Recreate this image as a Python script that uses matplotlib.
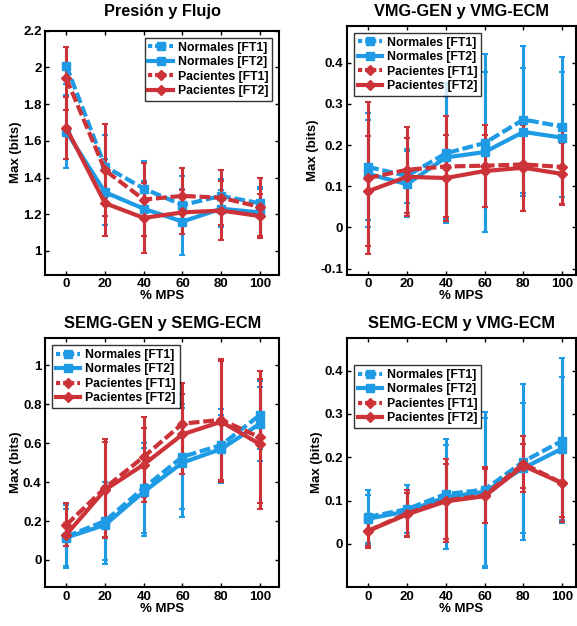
import matplotlib
matplotlib.use('Agg')
import matplotlib.pyplot as plt
from matplotlib.lines import Line2D

plt.rcParams['font.family'] = ['Liberation Sans', 'DejaVu Sans']
plt.rcParams['font.weight'] = 'bold'

x = [0, 20, 40, 60, 80, 100]
labels = ['Normales [FT1]', 'Normales [FT2]', 'Pacientes [FT1]', 'Pacientes [FT2]']
titles = ['Presión y Flujo', 'VMG-GEN y VMG-ECM', 'SEMG-GEN y SEMG-ECM', 'SEMG-ECM y VMG-ECM']

# Presión y Flujo
pf_mean = [
    [2.01, 1.46, 1.34, 1.25, 1.30, 1.26],
    [1.65, 1.32, 1.23, 1.16, 1.23, 1.21],
    [1.94, 1.44, 1.28, 1.30, 1.29, 1.24],
    [1.67, 1.26, 1.18, 1.21, 1.22, 1.19],
]
pf_err = [
    [0.10, 0.17, 0.15, 0.16, 0.09, 0.08],
    [0.20, 0.18, 0.15, 0.18, 0.10, 0.14],
    [0.17, 0.25, 0.20, 0.15, 0.15, 0.16],
    [0.17, 0.18, 0.19, 0.12, 0.16, 0.12],
]

# VMG-GEN y VMG-ECM
vmg_mean = [
    [0.147, 0.125, 0.180, 0.205, 0.262, 0.245],
    [0.130, 0.105, 0.170, 0.183, 0.232, 0.218],
    [0.120, 0.140, 0.148, 0.150, 0.153, 0.147],
    [0.088, 0.123, 0.120, 0.137, 0.145, 0.130],
]
vmg_err = [
    [0.130, 0.065, 0.170, 0.215, 0.178, 0.170],
    [0.130, 0.080, 0.150, 0.195, 0.155, 0.160],
    [0.185, 0.105, 0.122, 0.100, 0.112, 0.090],
    [0.133, 0.095, 0.105, 0.087, 0.105, 0.075],
]

# SEMG-GEN y SEMG-ECM
semg_mean = [
    [0.120, 0.200, 0.370, 0.530, 0.590, 0.745],
    [0.115, 0.180, 0.350, 0.500, 0.570, 0.700],
    [0.180, 0.370, 0.530, 0.700, 0.720, 0.630],
    [0.130, 0.360, 0.490, 0.645, 0.710, 0.595],
]
semg_err = [
    [0.160, 0.200, 0.230, 0.270, 0.185, 0.175],
    [0.145, 0.200, 0.225, 0.280, 0.175, 0.190],
    [0.110, 0.250, 0.205, 0.210, 0.310, 0.340],
    [0.060, 0.245, 0.190, 0.205, 0.310, 0.335],
]

# SEMG-ECM y VMG-ECM
ecm_mean = [
    [0.062, 0.080, 0.115, 0.125, 0.190, 0.238],
    [0.058, 0.075, 0.108, 0.120, 0.175, 0.220],
    [0.030, 0.070, 0.100, 0.112, 0.185, 0.140],
    [0.030, 0.068, 0.098, 0.110, 0.180, 0.140],
]
ecm_err = [
    [0.063, 0.055, 0.128, 0.180, 0.180, 0.190],
    [0.055, 0.050, 0.120, 0.170, 0.150, 0.165],
    [0.040, 0.055, 0.095, 0.065, 0.065, 0.090],
    [0.035, 0.050, 0.087, 0.062, 0.050, 0.078],
]

blue = '#1e9be4'
red = '#cc3338'
dash = (0, (2.6, 0.9))
dot = (0, (1.0, 0.7))
styles = [
    dict(color=blue, ls=dash, leg_ls=dot, marker='s'),
    dict(color=blue, ls='-', leg_ls='-', marker='s'),
    dict(color=red, ls=dash, leg_ls=dot, marker='D'),
    dict(color=red, ls='-', leg_ls='-', marker='D'),
]

panels = [
    (pf_mean, pf_err, [0.078, 0.561, 0.406, 0.390], (0.87, 2.2),
     [1, 1.2, 1.4, 1.6, 1.8, 2, 2.2], 'upper right', 110, None, 0.982),
    (vmg_mean, vmg_err, [0.601, 0.561, 0.397, 0.398], (-0.115, 0.49),
     [-0.1, 0, 0.1, 0.2, 0.3, 0.4], 'upper left', 107, None, 0.982),
    (semg_mean, semg_err, [0.078, 0.062, 0.406, 0.398], (-0.14, 1.14),
     [0, 0.2, 0.4, 0.6, 0.8, 1], 'upper left', 110, None, 0.484),
    (ecm_mean, ecm_err, [0.601, 0.062, 0.397, 0.398], (-0.1, 0.475),
     [0, 0.1, 0.2, 0.3, 0.4], 'upper left', 107, (0.0, 0.92), 0.484),
]

fig = plt.figure(figsize=(5.77, 6.26), dpi=100)

for title, (means, errs, pos, ylim, yticks, loc, xmax, anchor, ty) in zip(titles, panels):
    ax = fig.add_axes(pos)
    handles = []
    for m, e, st, lab in zip(means, errs, styles, labels):
        ax.errorbar(x, m, yerr=e, color=st['color'], ls=st['ls'], marker=st['marker'],
                    markersize=5.5, lw=3, elinewidth=2.2, capsize=2.5, capthick=1.5,
                    label=lab, dash_capstyle='butt')
        handles.append(Line2D([], [], color=st['color'], ls=st['leg_ls'], lw=3,
                              marker=st['marker'], markersize=5.5, dash_capstyle='butt'))
    ax.set_xlim(-11, xmax)
    ax.set_ylim(*ylim)
    ax.set_xticks(x)
    ax.set_yticks(yticks)
    ax.set_yticklabels([f'{v:g}' for v in yticks])
    ax.tick_params(direction='in', top=True, right=True, length=3, width=1,
                   labelsize=9.5, pad=2.5)
    for s in ax.spines.values():
        s.set_linewidth(1.5)
    fig.text(pos[0] + pos[2] / 2, ty, title, fontsize=11.8, fontweight='bold',
             ha='center', va='center')
    ax.set_xlabel('% MPS', fontsize=9.5, fontweight='bold', labelpad=0)
    ax.set_ylabel('Max (bits)', fontsize=9.5, fontweight='bold', labelpad=1)
    kw = dict(loc=loc, fontsize=8.8, frameon=True, fancybox=False, handlelength=2.0,
              borderpad=0.3, labelspacing=0.2, handletextpad=0.4, borderaxespad=0.6)
    if anchor is not None:
        kw['bbox_to_anchor'] = anchor
    leg = ax.legend(handles, labels, **kw)
    leg.get_frame().set_edgecolor('black')
    leg.get_frame().set_linewidth(1.0)

fig.savefig('out.png', dpi=100)
